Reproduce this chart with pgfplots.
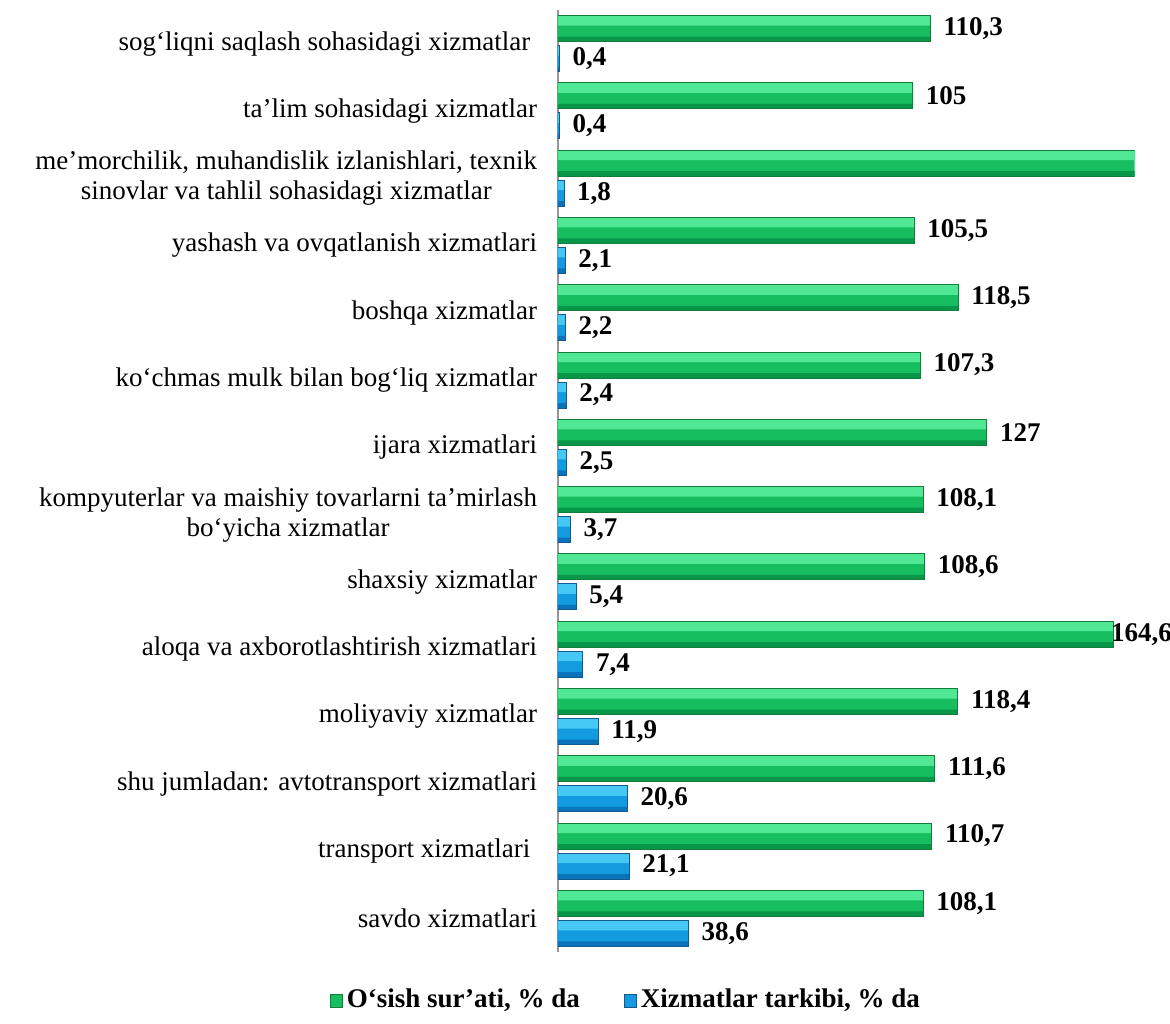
\documentclass[border=0pt]{standalone}
\usepackage{pgfplots}
\usepackage{pgfplotstable}
\pgfplotsset{compat=1.18}
\usepackage{fontspec}
\setmainfont{Liberation Serif}

\definecolor{grLight}{RGB}{80,232,148}
\definecolor{grMid}{RGB}{22,190,95}
\definecolor{grDark}{RGB}{8,150,72}
\definecolor{grLine}{RGB}{20,125,60}
\definecolor{blLight}{RGB}{70,200,245}
\definecolor{blMid}{RGB}{18,155,222}
\definecolor{blDark}{RGB}{10,115,185}
\definecolor{blLine}{RGB}{20,90,145}
\definecolor{axgray}{RGB}{150,150,150}

% y: 0 = savdo (bottom) ... 13 = sog'liqni (top)
\pgfplotstableread{
y x lab dx
0 108.1 108,1 3
1 110.7 110,7 3
2 111.6 111,6 3
3 118.4 118,4 3
4 164.6 164,6 -5
5 108.6 108,6 3
6 108.1 108,1 3
7 127 127 3
8 107.3 107,3 3
9 118.5 118,5 3
10 105.5 105,5 3
11 175 {} 3
12 105 105 3
13 110.3 110,3 3
}\osish

\pgfplotstableread{
y x lab dx
0 38.6 38,6 3
1 21.1 21,1 3
2 20.6 20,6 3
3 11.9 11,9 3
4 7.4 7,4 3
5 5.4 5,4 3
6 3.7 3,7 3
7 2.5 2,5 3
8 2.4 2,4 3
9 2.2 2,2 3
10 2.1 2,1 3
11 1.8 1,8 3
12 0.4 0,4 3
13 0.4 0,4 3
}\tarkib

\begin{document}
\begin{tikzpicture}
\path[use as bounding box] (-279pt,-35.5pt) rectangle (306pt,476pt);
\begin{axis}[
  scale only axis,
  width=288.25pt, height=471pt,
  xbar,
  xmin=0, xmax=170.7,
  ymin=-0.5, ymax=13.5,
  axis y line*=left,
  axis x line=none,
  y axis line style={draw=axgray, line width=0.75pt},
  ytick={0,...,13},
  ytick style={draw=none},
  yticklabels={
    savdo xizmatlari,
    transport xizmatlari\ ,
    {shu jumladan: avtotransport xizmatlari},
    moliyaviy xizmatlar,
    aloqa va axborotlashtirish xizmatlari,
    shaxsiy xizmatlar,
    {kompyuterlar va maishiy tovarlarni ta’mirlash\ \\ bo‘yicha xizmatlar},
    ijara xizmatlari,
    ko‘chmas mulk bilan bog‘liq xizmatlar,
    boshqa xizmatlar,
    yashash va ovqatlanish xizmatlari,
    {me’morchilik, muhandislik izlanishlari, texnik\\ sinovlar va tahlil sohasidagi xizmatlar},
    ta’lim sohasidagi xizmatlar,
    sog‘liqni saqlash sohasidagi xizmatlar\ },
  yticklabel style={font=\fontsize{13.5}{15}\selectfont, align=center, inner sep=0pt, xshift=-6pt},
  legend columns=2,
  legend style={draw=none, at={(rel axis cs:0.083,0)}, anchor=center, yshift=-24pt, xshift=10.5pt,
    font=\bfseries\fontsize{13.5}{15}\selectfont,
    /tikz/every even column/.append style={column sep=20pt}},
  lbl/.style={point meta=explicit symbolic, nodes near coords,
    visualization depends on={\thisrow{dx} \as \dx},
    nodes near coords style={font=\bfseries\fontsize{13.5}{15}\selectfont,
      anchor=west, xshift=\dx pt, text=black}},
]
% O'sish sur'ati: body, light top band, dark bottom band, outline with labels
\addplot[forget plot, bar width=13pt, bar shift=7.5pt, draw=none, fill=grMid]
  table[x=x, y=y] {\osish};
\addplot[forget plot, bar width=5pt, bar shift=11.5pt, draw=none, fill=grLight]
  table[x=x, y=y] {\osish};
\addplot[forget plot, bar width=2.5pt, bar shift=2.25pt, draw=none, fill=grDark]
  table[x=x, y=y] {\osish};
\addplot[bar width=13pt, bar shift=7.5pt, draw=grLine, line width=0.5pt, fill=none, lbl,
  legend image code/.code={\draw[draw=grLine, fill=grMid] (0pt,-3.5pt) rectangle (6pt,3pt);}]
  table[x=x, y=y, meta=lab] {\osish};
\addlegendentry{O‘sish sur’ati, \% da}
% Xizmatlar tarkibi
\addplot[forget plot, bar width=13pt, bar shift=-7.5pt, draw=none, fill=blMid]
  table[x=x, y=y] {\tarkib};
\addplot[forget plot, bar width=5pt, bar shift=-3.5pt, draw=none, fill=blLight]
  table[x=x, y=y] {\tarkib};
\addplot[forget plot, bar width=2.5pt, bar shift=-12.75pt, draw=none, fill=blDark]
  table[x=x, y=y] {\tarkib};
\addplot[bar width=13pt, bar shift=-7.5pt, draw=blLine, line width=0.5pt, fill=none, lbl,
  legend image code/.code={\draw[draw=blLine, fill=blMid] (0pt,-3.5pt) rectangle (6pt,3pt);}]
  table[x=x, y=y, meta=lab] {\tarkib};
\addlegendentry{Xizmatlar tarkibi, \% da}
\end{axis}
\end{tikzpicture}
\end{document}
